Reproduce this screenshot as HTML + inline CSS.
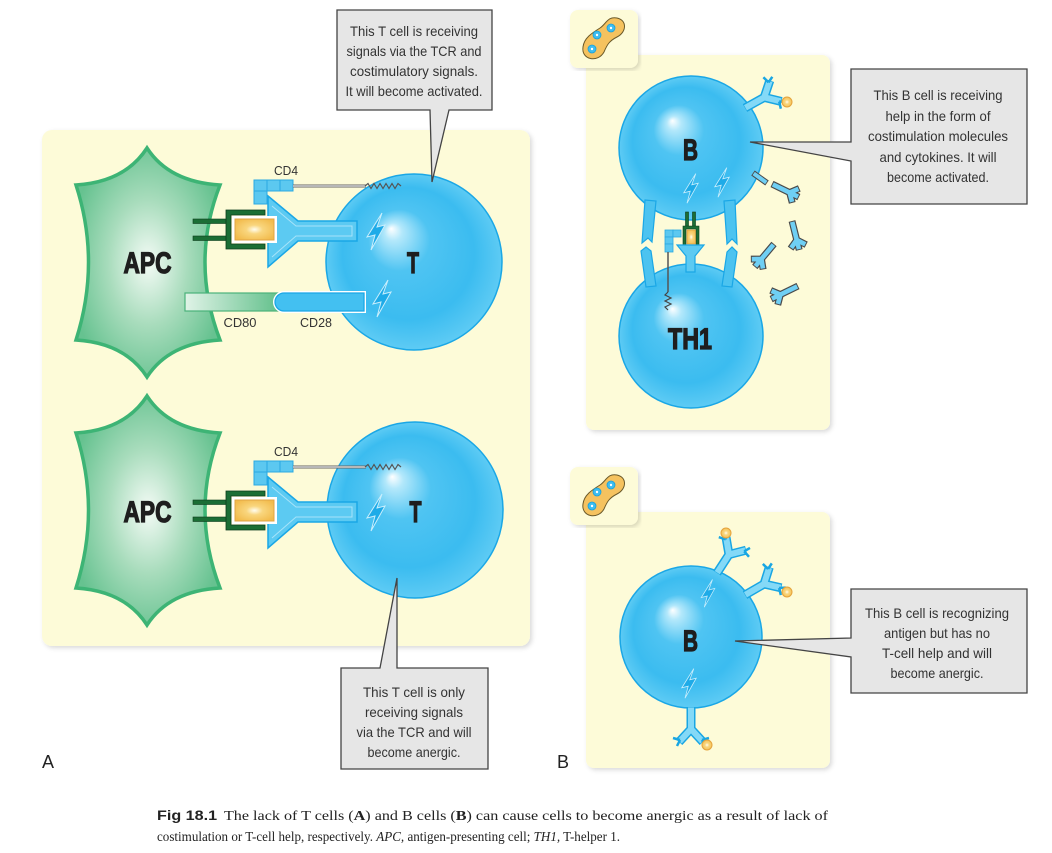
<!DOCTYPE html>
<html><head><meta charset="utf-8"><style>
html,body{margin:0;padding:0;background:#fff;}
svg{display:block;}
text{font-family:"Liberation Sans",sans-serif;}
.lbl{font-weight:700;fill:#1e1e1e;stroke:#1e1e1e;stroke-width:1.3;}
</style></head><body>
<svg width="1052" height="853" viewBox="0 0 1052 853" xmlns="http://www.w3.org/2000/svg">
<defs>
<radialGradient id="cell" cx="0.5" cy="0.5" r="0.5" fx="0.37" fy="0.31">
<stop offset="0" stop-color="#ffffff"/><stop offset="0.1" stop-color="#b3e8fb"/><stop offset="0.35" stop-color="#4fc4f2"/><stop offset="0.75" stop-color="#3bbcf0"/><stop offset="1" stop-color="#5ecbf4"/>
</radialGradient>
<radialGradient id="apc" cx="0.5" cy="0.5" r="0.55">
<stop offset="0" stop-color="#f4fbf6"/><stop offset="0.5" stop-color="#a8dcbc"/><stop offset="1" stop-color="#66c290"/>
</radialGradient>
<radialGradient id="ag" cx="0.5" cy="0.5" r="0.6">
<stop offset="0" stop-color="#fffdf0"/><stop offset="0.35" stop-color="#f9d67e"/><stop offset="1" stop-color="#f2bb4c"/>
</radialGradient>
<linearGradient id="cd80" x1="0" x2="1" y1="0" y2="0">
<stop offset="0" stop-color="#e0f3e7"/><stop offset="1" stop-color="#5fbf89"/>
</linearGradient>
<filter id="sh" x="-5%" y="-5%" width="110%" height="110%">
<feDropShadow dx="2" dy="2" stdDeviation="2.5" flood-color="#000" flood-opacity="0.15"/>
</filter>
<path id="bolt" d="M6 -18 L-9 6 L-1 4 L-5 19 L9 -6 L1 -4 Z" fill="#1eabe8" stroke="#c9eefc" stroke-width="1"/>
<g id="cy">
<path d="M0 0 L26 0 M17 0 L23 -7 M17 0 L23 7" stroke="#4a4a4a" stroke-width="6" fill="none"/>
<path d="M0.8 0 L25.2 0 M17 0 L22.5 -6.3 M17 0 L22.5 6.3" stroke="#6fcff4" stroke-width="4" fill="none"/>
</g>
<g id="ab">
<path d="M0 0 H22 M22 0 L35 -12 M22 0 L35 12" stroke="#19a6e3" stroke-width="9" fill="none" stroke-linejoin="round"/>
<path d="M0.5 0 H22 M22 0 L34.5 -11.5 M22 0 L34.5 11.5" stroke="#84d9f7" stroke-width="6" fill="none" stroke-linejoin="round"/>
<path d="M33 -11 L31 -18 M33 -11 L39 -14 M33 11 L39 14 M33 11 L31 18" stroke="#19a6e3" stroke-width="2.5" fill="none"/>
</g>
<g id="cplx">
<text x="286" y="175" font-size="13" fill="#333" text-anchor="middle" textLength="24" lengthAdjust="spacingAndGlyphs">CD4</text>
<polygon points="268,196 298,221 357,221 357,241 298,241 268,267" fill="#5ccaf2" stroke="#1aa7e6" stroke-width="1.5"/>
<polyline points="272,206 296,226 352,226 352,236 296,236 272,257" fill="none" stroke="#a6e3fa" stroke-width="1"/>
<rect x="254" y="180" width="13" height="11" fill="#5cc8f0" stroke="#2aa9e2"/>
<rect x="267" y="180" width="13" height="11" fill="#5cc8f0" stroke="#2aa9e2"/>
<rect x="280" y="180" width="13" height="11" fill="#5cc8f0" stroke="#2aa9e2"/>
<rect x="254" y="191" width="13" height="13" fill="#5cc8f0" stroke="#2aa9e2"/>
<line x1="293" y1="186" x2="366" y2="186" stroke="#666" stroke-width="3"/>
<line x1="293" y1="186" x2="366" y2="186" stroke="#e8e8e8" stroke-width="1.2"/>
<polyline points="365,186 368,183.5 371,188.5 374,183.5 377,188.5 380,183.5 383,188.5 386,183.5 389,188.5 392,183.5 395,188.5 398,183.5 401,186" fill="none" stroke="#555" stroke-width="1.2"/>
<rect x="193" y="219" width="34" height="4.5" fill="#1b6e35" stroke="#0d3d1c" stroke-width="0.6"/>
<rect x="193" y="236" width="34" height="4.5" fill="#1b6e35" stroke="#0d3d1c" stroke-width="0.6"/>
<path d="M265 210 H226 V249 H265 V244 H231 V215 H265 Z" fill="#1b6e35" stroke="#0d3d1c" stroke-width="0.8"/>
<rect x="232" y="216" width="45" height="27" fill="#ffffff"/>
<rect x="235" y="219" width="39" height="21" fill="url(#ag)" stroke="#e0a545" stroke-width="1"/>
<use href="#bolt" transform="translate(376,231)"/>
</g>
</defs>

<!-- Panel A -->
<rect x="42" y="130" width="488" height="516" rx="10" fill="#fdfbd8" filter="url(#sh)"/>
<!-- Panel B -->
<rect x="586" y="55" width="244" height="375" rx="8" fill="#fdfbd8" filter="url(#sh)"/>
<rect x="586" y="512" width="244" height="256" rx="8" fill="#fdfbd8" filter="url(#sh)"/>
<rect x="570" y="10" width="68" height="58" rx="8" fill="#fdfbd8" filter="url(#sh)"/>
<rect x="570" y="467" width="68" height="58" rx="8" fill="#fdfbd8" filter="url(#sh)"/>
<g id="bean">
<path d="M617 18 C627 20 627 32 617 37 C609 41 607 45 604 52 C598 63 581 60 583 47 C584 38 592 33 600 28 C606 24 608 16 617 18 Z" fill="#f5c25f" stroke="#6b5a2a" stroke-width="1"/>
<circle cx="611" cy="28" r="4" fill="#3dbdf0" stroke="#1a9fd8" stroke-width="0.8"/><circle cx="611" cy="28" r="1.2" fill="#fff"/>
<circle cx="597" cy="35" r="4" fill="#3dbdf0" stroke="#1a9fd8" stroke-width="0.8"/><circle cx="597" cy="35" r="1.2" fill="#fff"/>
<circle cx="592" cy="49" r="4" fill="#3dbdf0" stroke="#1a9fd8" stroke-width="0.8"/><circle cx="592" cy="49" r="1.2" fill="#fff"/>
</g>
<use href="#bean" transform="translate(0,457)"/>

<!-- APCs -->
<path d="M76 185 Q125 182 147 148 Q169 182 220 185 Q190 262 220 340 Q169 343 147 377 Q125 343 76 340 Q101 262 76 185 Z" fill="url(#apc)" stroke="#3db475" stroke-width="3.5"/>
<path d="M76 433 Q125 430 147 396 Q169 430 220 433 Q190 510 220 588 Q169 591 147 625 Q125 591 76 588 Q101 510 76 433 Z" fill="url(#apc)" stroke="#3db475" stroke-width="3.5"/>
<text class="lbl" x="147.5" y="273" font-size="30" text-anchor="middle" textLength="48" lengthAdjust="spacingAndGlyphs">APC</text>
<text class="lbl" x="147.5" y="522" font-size="30" text-anchor="middle" textLength="48" lengthAdjust="spacingAndGlyphs">APC</text>

<!-- T cells -->
<circle cx="414" cy="262" r="88" fill="url(#cell)" stroke="#1aa7e6" stroke-width="1.5"/>
<circle cx="415" cy="510" r="88" fill="url(#cell)" stroke="#1aa7e6" stroke-width="1.5"/>
<text class="lbl" x="413" y="273" font-size="30" text-anchor="middle" textLength="12" lengthAdjust="spacingAndGlyphs">T</text>
<text class="lbl" x="415.5" y="522" font-size="30" text-anchor="middle" textLength="12" lengthAdjust="spacingAndGlyphs">T</text>

<use href="#cplx"/>
<use href="#cplx" transform="translate(0,281)"/>

<!-- CD80 / CD28 -->
<rect x="185" y="293" width="97" height="18" fill="url(#cd80)" stroke="#4ab27a" stroke-width="1.2"/>
<path d="M364 293 H284 A9 9 0 0 0 284 311 H364 Z" fill="none" stroke="#ffffff" stroke-width="4"/>
<path d="M364 293 H284 A9 9 0 0 0 284 311 H364 Z" fill="#43c0f1" stroke="#1aa7e6" stroke-width="1.3"/>
<use href="#bolt" transform="translate(382,298)"/>
<text x="240" y="327" font-size="13" fill="#333" text-anchor="middle" textLength="33" lengthAdjust="spacingAndGlyphs">CD80</text>
<text x="316" y="327" font-size="13" fill="#333" text-anchor="middle" textLength="32" lengthAdjust="spacingAndGlyphs">CD28</text>

<!-- Callouts A -->
<path d="M337 10 H492 V110 H449 L432 182 L430 110 H337 Z" fill="#e6e6e6" stroke="#444" stroke-width="1.3"/>
<g font-size="14" fill="#333" text-anchor="middle">
<text x="414" y="36" textLength="128" lengthAdjust="spacingAndGlyphs">This T cell is receiving</text>
<text x="414" y="56" textLength="135" lengthAdjust="spacingAndGlyphs">signals via the TCR and</text>
<text x="414" y="76" textLength="128" lengthAdjust="spacingAndGlyphs">costimulatory signals.</text>
<text x="414" y="96" textLength="137" lengthAdjust="spacingAndGlyphs">It will become activated.</text>
</g>
<path d="M341 668 H380 L397 578 L397 668 H488 V769 H341 Z" fill="#e6e6e6" stroke="#444" stroke-width="1.3"/>
<g font-size="14" fill="#333" text-anchor="middle">
<text x="414" y="697" textLength="102" lengthAdjust="spacingAndGlyphs">This T cell is only</text>
<text x="414" y="717" textLength="98" lengthAdjust="spacingAndGlyphs">receiving signals</text>
<text x="414" y="737" textLength="115" lengthAdjust="spacingAndGlyphs">via the TCR and will</text>
<text x="414" y="757" textLength="93" lengthAdjust="spacingAndGlyphs">become anergic.</text>
</g>

<!-- Panel B top cells -->
<circle cx="691" cy="148" r="72" fill="url(#cell)" stroke="#1aa7e6" stroke-width="1.5"/>
<circle cx="691" cy="336" r="72" fill="url(#cell)" stroke="#1aa7e6" stroke-width="1.5"/>
<text class="lbl" x="690.5" y="160" font-size="30" text-anchor="middle" textLength="15" lengthAdjust="spacingAndGlyphs">B</text>
<text class="lbl" x="690" y="349" font-size="30" text-anchor="middle" textLength="44" lengthAdjust="spacingAndGlyphs">TH1</text>
<use href="#bolt" transform="translate(691,188) scale(0.8)"/>
<use href="#bolt" transform="translate(722,182) scale(0.8)"/>

<!-- bars -->
<g fill="#4cc3f0" stroke="#1aa7e6" stroke-width="1.2">
<polygon points="645,200 656,201 652,242 648,238 642,243"/>
<polygon points="641,251 646,247 651,251 656,286 646,287"/>
<polygon points="724,201 735,200 737,244 732,239 727,244"/>
<polygon points="727,252 732,247 737,252 732,287 722,286"/>
</g>
<!-- MHC on B -->
<rect x="685.5" y="212" width="3" height="15" fill="#1b6e35" stroke="#0c3a1a" stroke-width="0.6"/>
<rect x="692.5" y="212" width="3" height="15" fill="#1b6e35" stroke="#0c3a1a" stroke-width="0.6"/>
<path d="M683 246 V226 H699 V246 H696 V229 H686 V246 Z" fill="#1b6e35" stroke="#0c3a1a" stroke-width="0.6"/>
<rect x="687" y="230" width="8.5" height="14" fill="url(#ag)" stroke="#d99a3a" stroke-width="0.6"/>
<!-- TCR on TH1 -->
<polygon points="677,245 704,245 695,256 695,272 686,272 686,256" fill="#5ccaf2" stroke="#1aa7e6" stroke-width="1.2"/>
<!-- CD4 on TH1 -->
<g fill="#5cc8f0" stroke="#2aa9e2" stroke-width="0.8">
<rect x="665" y="230" width="8" height="7"/><rect x="673" y="230" width="8" height="7"/>
<rect x="665" y="237" width="8" height="7"/><rect x="665" y="244" width="8" height="8"/>
</g>
<line x1="668" y1="252" x2="668" y2="292" stroke="#555" stroke-width="1.5"/>
<polyline points="668,292 665,295 671,298 665,301 671,304 665,307 668,310" fill="none" stroke="#444" stroke-width="1.2"/>

<!-- antibody top B -->
<use href="#ab" transform="translate(745,108) rotate(-29)"/>
<circle cx="787" cy="102" r="5" fill="url(#ag)" stroke="#e5a33c" stroke-width="1"/>

<!-- cytokines -->
<line x1="753" y1="173" x2="767" y2="183" stroke="#4a4a4a" stroke-width="6"/>
<line x1="753.7" y1="173.5" x2="766.3" y2="182.5" stroke="#6fcff4" stroke-width="4"/>
<use href="#cy" transform="translate(772,184) rotate(26) scale(1.15)"/>
<use href="#cy" transform="translate(792,221) rotate(76) scale(1.15)"/>
<use href="#cy" transform="translate(774,244) rotate(130) scale(1.15)"/>
<use href="#cy" transform="translate(798,286) rotate(154) scale(1.15)"/>

<!-- Panel B bottom -->
<circle cx="691" cy="637" r="71" fill="url(#cell)" stroke="#1aa7e6" stroke-width="1.5"/>
<text class="lbl" x="690.5" y="651" font-size="30" text-anchor="middle" textLength="15" lengthAdjust="spacingAndGlyphs">B</text>
<use href="#bolt" transform="translate(708,593) scale(0.75)"/>
<use href="#bolt" transform="translate(689,683) scale(0.8)"/>
<use href="#ab" transform="translate(717,573) rotate(-57)"/>
<use href="#ab" transform="translate(745,595) rotate(-30)"/>
<use href="#ab" transform="translate(691,707) rotate(90)"/>
<circle cx="726" cy="533" r="5" fill="url(#ag)" stroke="#e5a33c" stroke-width="1"/>
<circle cx="787" cy="592" r="5" fill="url(#ag)" stroke="#e5a33c" stroke-width="1"/>
<circle cx="707" cy="745" r="5" fill="url(#ag)" stroke="#e5a33c" stroke-width="1"/>

<!-- Callouts B -->
<path d="M851 69 H1027 V204 H851 V161 L750 142 L851 142 Z" fill="#e6e6e6" stroke="#444" stroke-width="1.3"/>
<g font-size="14" fill="#333" text-anchor="middle">
<text x="938" y="100" textLength="129" lengthAdjust="spacingAndGlyphs">This B cell is receiving</text>
<text x="938" y="121" textLength="105" lengthAdjust="spacingAndGlyphs">help in the form of</text>
<text x="938" y="141" textLength="140" lengthAdjust="spacingAndGlyphs">costimulation molecules</text>
<text x="938" y="162" textLength="117" lengthAdjust="spacingAndGlyphs">and cytokines. It will</text>
<text x="938" y="182" textLength="102" lengthAdjust="spacingAndGlyphs">become activated.</text>
</g>
<path d="M851 589 H1027 V693 H851 V657 L735 641 L851 638 Z" fill="#e6e6e6" stroke="#444" stroke-width="1.3"/>
<g font-size="14" fill="#333" text-anchor="middle">
<text x="937" y="618" textLength="144" lengthAdjust="spacingAndGlyphs">This B cell is recognizing</text>
<text x="937" y="638" textLength="106" lengthAdjust="spacingAndGlyphs">antigen but has no</text>
<text x="937" y="658" textLength="110" lengthAdjust="spacingAndGlyphs">T-cell help and will</text>
<text x="937" y="678" textLength="93" lengthAdjust="spacingAndGlyphs">become anergic.</text>
</g>

<!-- Panel labels -->
<text x="42" y="768" font-size="18" fill="#222">A</text>
<text x="557" y="768" font-size="18" fill="#222">B</text>

<!-- Caption -->
<text x="157" y="820" font-size="14" fill="#222" textLength="671" lengthAdjust="spacingAndGlyphs" style="font-family:'Liberation Serif',serif"><tspan font-weight="bold" style="font-family:'Liberation Sans',sans-serif">Fig 18.1</tspan><tspan dx="6">The lack of T cells (</tspan><tspan font-weight="bold">A</tspan><tspan>) and B cells (</tspan><tspan font-weight="bold">B</tspan><tspan>) can cause cells to become anergic as a result of lack of</tspan></text>
<text x="157" y="841" font-size="14" fill="#222" textLength="463" lengthAdjust="spacingAndGlyphs" style="font-family:'Liberation Serif',serif">costimulation or T-cell help, respectively. <tspan font-style="italic">APC,</tspan> antigen-presenting cell; <tspan font-style="italic">TH1,</tspan> T-helper 1.</text>
</svg>
</body></html>
